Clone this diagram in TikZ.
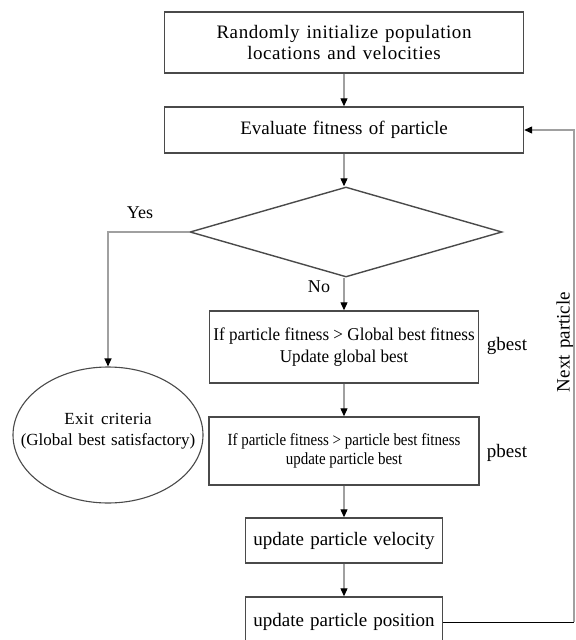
\documentclass[tikz,border=0pt]{standalone}
\usepackage{fontspec}
\setmainfont{Liberation Serif}[WordSpace=1.3]
\newfontfamily\condA{Liberation Serif}[FakeStretch=0.95]
\newfontfamily\condB{Liberation Serif}[FakeStretch=0.88]
\newfontfamily\wideA{Liberation Serif}[LetterSpace=3,WordSpace=1.3]
\newfontfamily\wideB{Liberation Serif}[LetterSpace=2,WordSpace=1.6]
\usetikzlibrary{shapes.geometric,arrows.meta}
\definecolor{boxc}{HTML}{4A4A4A}
\definecolor{linec}{HTML}{A0A0A0}
\tikzset{
  box/.style={draw=boxc, line width=1.4bp, rectangle, inner sep=0pt, align=center,
    font=\fontsize{19bp}{21bp}\selectfont},
  conn/.style={draw=linec, line width=1.1bp, -{Triangle[black,length=8bp,width=7bp]}},
  lab/.style={inner sep=0pt, font=\fontsize{19bp}{21bp}\selectfont},
}
\begin{document}
\begin{tikzpicture}[x=1bp,y=-1bp]
\fill[white] (0,0) rectangle (576,640);
\useasboundingbox (0,0) rectangle (576,640);

\node[box, minimum width=359bp, minimum height=61bp,
  font=\wideA\fontsize{19bp}{21bp}\selectfont] (b1) at (344,42.5)
  {Randomly initialize population\\locations and velocities};
\node[box, minimum width=359bp, minimum height=46bp] (b2) at (344,130)
  {Evaluate fitness of particle};
\node[diamond, draw=boxc, line width=1.4bp, minimum width=312bp, minimum height=90bp,
  inner sep=0pt] (d) at (346,232) {};
\node[ellipse, draw=boxc, line width=1.1bp, minimum width=190bp, minimum height=136bp,
  inner sep=0pt] (e) at (108,435) {};
\node[align=center, inner sep=0pt, font=\fontsize{17bp}{21bp}\selectfont] (et) at (108,431)
  {{\wideB Exit criteria}\\(Global best satisfactory)};
\node[box, minimum width=269bp, minimum height=72bp,
  font=\condA\fontsize{18bp}{22bp}\selectfont] (b3) at (344,347)
  {If particle fitness > Global best fitness\\Update global best};
\node[box, minimum width=270bp, minimum height=68bp,
  font=\condB\fontsize{17bp}{19bp}\selectfont] (b4) at (344,451)
  {If particle fitness > particle best fitness\\update particle best};
\node[box, minimum width=197bp, minimum height=45bp] (b5) at (344,540.5)
  {update particle velocity};
\node[box, minimum width=197bp, minimum height=50bp] (b6) at (344,622)
  {update particle position};

\node[lab, font=\fontsize{18bp}{21bp}\selectfont] (yes) at (140,213) {Yes};
\node[lab, font=\wideB\fontsize{18bp}{21bp}\selectfont] (no) at (319,287) {No};
\node[lab] (gb) at (507,346) {gbest};
\node[lab] (pb) at (507,453) {pbest};
\node[lab, rotate=90] (np) at (565,342) {Next particle};

\coordinate (yc) at (e.north |- d.west);
\coordinate (r1) at (574,622);
\coordinate (r2) at (574,130);

\draw[conn] (b1.south) -- (b2.north);
\draw[conn] (b2.south) -- (b2.south |- d.north);
\draw[conn] (d.west) -- (yc) -- (e.north);
\draw[conn] (b3.north |- d.south) -- (b3.north);
\draw[conn] (b3.south) -- (b4.north);
\draw[conn] (b4.south) -- (b5.north);
\draw[conn] (b5.south) -- (b6.north);
\draw[black, line width=1bp] (b6.east) -- (r1);
\draw[conn] (r1) -- (r2) -- (b2.east);
\end{tikzpicture}
\end{document}
